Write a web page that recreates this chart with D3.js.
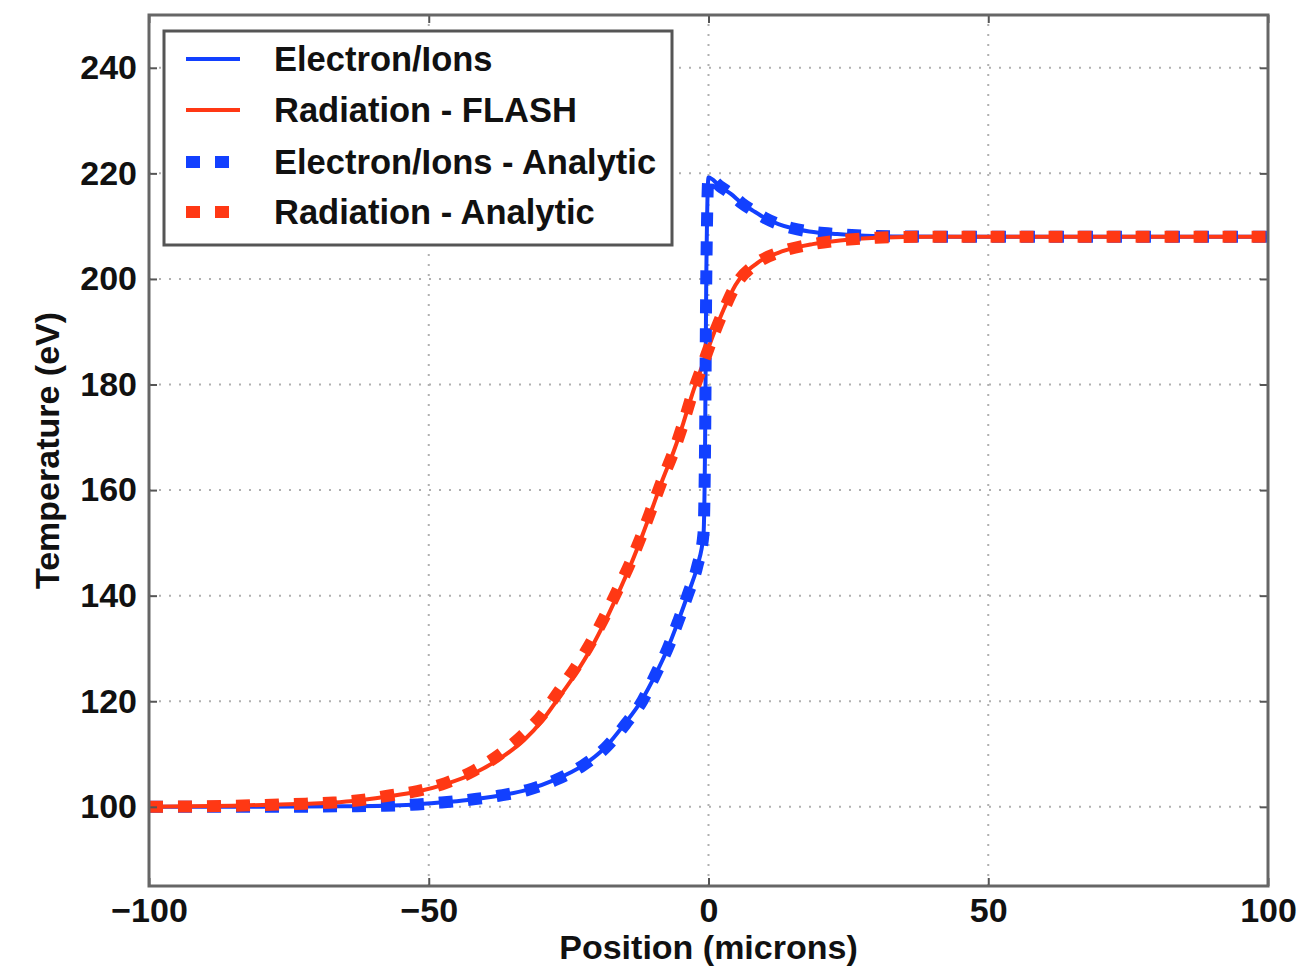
<!DOCTYPE html>
<html>
<head>
<meta charset="utf-8">
<script src="https://cdn.jsdelivr.net/npm/d3@7"></script>
<style>
  html, body { margin: 0; padding: 0; background: #fff; }
  svg text { font-family: "Liberation Sans", Arial, Helvetica, sans-serif; font-weight: bold; fill: #111; }
</style>
</head>
<body>
<svg id="chart" width="1298" height="966"></svg>
<script>
// Temperature profiles across the shock: [position (microns), temperature (eV)]
const electronFlash = [
  [-100,100],[-80,100],[-65,100.1],[-58,100.2],[-53,100.4],[-48,100.8],[-43,101.3],
  [-37.5,102.1],[-32.5,103.2],[-27.5,105.1],[-22.5,107.8],[-18.5,111.2],[-15,115.7],
  [-12,120.1],[-9.5,125],[-7.3,130],[-5.4,135.2],[-3.6,140.5],[-2,145.6],[-0.9,151.5],
  [-0.6,170],[-0.4,200],[0,219.2],[2,217.6],[4,216.1],[6,214.3],[8,212.9],[10,211.6],
  [12.5,210.4],[15,209.6],[18,209],[23,208.5],[28,208.2],[35,208.05],[45,208],[100,208]
];
const radiationFlash = [
  [-100,100],[-85,100.2],[-72,100.6],[-67,100.8],[-62,101.3],[-57,102],[-52,102.9],
  [-47,104.3],[-42,106.3],[-37.5,109],[-33,112.6],[-29.6,116.5],[-26.8,120.6],
  [-23.7,125.3],[-21,130],[-18.4,135.3],[-16.2,140.3],[-14,145.6],[-11.8,151.5],
  [-10,156.7],[-8.2,162],[-6.2,167.4],[-4.5,172.7],[-2.9,178.2],[-1.1,183.6],
  [0.7,189],[2.7,194.2],[4.8,198.8],[8.7,203],[13.4,205.3],[18.6,206.6],[23.5,207.3],
  [30,207.8],[40,208],[100,208]
];
const electronAnalytic = [
  [-100,100],[-80,100],[-65,100.1],[-58,100.2],[-53,100.4],[-48,100.8],[-43,101.3],
  [-37.5,102.1],[-32.3,103.2],[-27.3,105.1],[-22.5,107.8],[-18.4,111.2],[-14.8,115.7],
  [-11.8,120.1],[-9.5,125],[-7.3,130],[-5.4,135.2],[-3.6,140.5],[-2,145.6],[-0.9,151.7],
  [-0.6,170],[-0.4,200],[0,219.2],[2,217.6],[4,216.1],[6,214.3],[8,212.9],[10,211.6],
  [12.5,210.4],[15,209.6],[18,209],[23,208.5],[28,208.2],[35,208.05],[45,208],[100,208]
];
const radiationAnalytic = [
  [-100,100],[-85,100.2],[-72,100.6],[-67,100.8],[-62,101.3],[-57.3,102.1],[-52,103],
  [-47,104.5],[-42,106.8],[-37.5,109.8],[-33.2,113.6],[-29.6,117.6],[-26.8,121.8],
  [-23.7,126.5],[-21,131.2],[-18.4,136.4],[-16.2,141.2],[-14,146.2],[-11.8,151.9],
  [-10,157],[-8.2,162.1],[-6.2,167.4],[-4.5,172.7],[-2.9,178.2],[-1.1,183.5],
  [0.7,188.8],[2.7,194],[4.8,198.7],[8.7,203],[13.4,205.3],[18.6,206.6],[23.5,207.3],
  [30,207.8],[40,208],[100,208]
];

const xTicks = [-100, -50, 0, 50, 100];
const yTicks = [100, 120, 140, 160, 180, 200, 220, 240];
const legendLabels = ["Electron/Ions", "Radiation - FLASH", "Electron/Ions - Analytic", "Radiation - Analytic"];

const BLUE = "#1240ff";
const RED = "#ff3814";
const DASH = "14,15";

const svg = d3.select("#chart");
const margin = { left: 149, right: 1298 - 1268, top: 15, bottom: 966 - 886 };
const W = 1298, H = 966;

const x = d3.scaleLinear().domain([-100, 100]).range([margin.left, W - margin.right]);
const y = d3.scaleLinear().domain([85, 250]).range([H - margin.bottom, margin.top]);

const fmt = d => (d < 0 ? "\u2212" + Math.abs(d) : String(d));

// Dotted grid
const grid = svg.append("g").attr("stroke", "#b0b0b0").attr("stroke-width", 2)
  .attr("stroke-dasharray", "2,8");
grid.selectAll("line.vx").data(xTicks.filter(d => d > -100 && d < 100)).join("line")
  .attr("x1", d => x(d)).attr("x2", d => x(d))
  .attr("y1", y.range()[0]).attr("y2", y.range()[1]);
grid.selectAll("line.hy").data(yTicks).join("line")
  .attr("y1", d => y(d)).attr("y2", d => y(d))
  .attr("x1", x.range()[0]).attr("x2", x.range()[1]);

// Curves
const line = d3.line().x(d => x(d[0])).y(d => y(d[1])).curve(d3.curveMonotoneX);
const plot = svg.append("g");
plot.append("path").datum(electronFlash).attr("d", line)
  .attr("fill", "none").attr("stroke", BLUE).attr("stroke-width", 4);
plot.append("path").datum(radiationFlash).attr("d", line)
  .attr("fill", "none").attr("stroke", RED).attr("stroke-width", 4);
plot.append("path").datum(electronAnalytic).attr("d", line)
  .attr("fill", "none").attr("stroke", BLUE).attr("stroke-width", 12)
  .attr("stroke-dasharray", DASH);
plot.append("path").datum(radiationAnalytic).attr("d", line)
  .attr("fill", "none").attr("stroke", RED).attr("stroke-width", 12)
  .attr("stroke-dasharray", DASH);

// Axes with inward ticks on all four sides
const tickLen = 8;
const axB = svg.append("g").attr("transform", `translate(0,${y.range()[0]})`)
  .call(d3.axisBottom(x).tickValues(xTicks).tickSizeInner(-tickLen).tickSizeOuter(0).tickPadding(12).tickFormat(fmt));
const axT = svg.append("g").attr("transform", `translate(0,${y.range()[1]})`)
  .call(d3.axisTop(x).tickValues(xTicks).tickSizeInner(-tickLen).tickSizeOuter(0).tickFormat(""));
const axL = svg.append("g").attr("transform", `translate(${x.range()[0]},0)`)
  .call(d3.axisLeft(y).tickValues(yTicks).tickSizeInner(-tickLen).tickSizeOuter(0).tickPadding(12).tickFormat(fmt));
const axR = svg.append("g").attr("transform", `translate(${x.range()[1]},0)`)
  .call(d3.axisRight(y).tickValues(yTicks).tickSizeInner(-tickLen).tickSizeOuter(0).tickFormat(""));
[axB, axT, axL, axR].forEach(a => {
  a.select(".domain").remove();
  a.selectAll(".tick line").attr("stroke", "#555").attr("stroke-width", 2);
  a.selectAll("text").attr("font-size", 34).attr("fill", "#111")
    .style("font-family", '"Liberation Sans", Arial, sans-serif').style("font-weight", "bold");
});
axB.selectAll("text").attr("dy", "0.71em");
axL.selectAll("text").attr("dy", "0.32em");

// Frame
svg.append("rect")
  .attr("x", x.range()[0]).attr("y", y.range()[1])
  .attr("width", x.range()[1] - x.range()[0]).attr("height", y.range()[0] - y.range()[1])
  .attr("fill", "none").attr("stroke", "#666").attr("stroke-width", 3);

// Axis titles
svg.append("text").attr("x", x(0)).attr("y", 959).attr("text-anchor", "middle")
  .attr("font-size", 34).text("Position (microns)");
svg.append("text").attr("transform", `translate(59,${y(167.5)}) rotate(-90)`)
  .attr("text-anchor", "middle").attr("font-size", 34).text("Temperature (eV)");

// Legend
const legend = svg.append("g");
legend.append("rect").attr("x", 164).attr("y", 31).attr("width", 508).attr("height", 214)
  .attr("fill", "#fff").attr("stroke", "#555").attr("stroke-width", 3);
const legendStyles = [
  { color: BLUE, width: 4, dash: null },
  { color: RED, width: 4, dash: null },
  { color: BLUE, width: 12, dash: DASH },
  { color: RED, width: 12, dash: DASH }
];
const rowY = [59, 110, 162, 212];
legendLabels.forEach((label, i) => {
  const s = legendStyles[i];
  legend.append("line").attr("x1", 186).attr("x2", 240).attr("y1", rowY[i]).attr("y2", rowY[i])
    .attr("stroke", s.color).attr("stroke-width", s.width)
    .attr("stroke-dasharray", s.dash);
  legend.append("text").attr("x", 274).attr("y", rowY[i]).attr("dy", "0.36em")
    .attr("font-size", 34.5).text(label);
});
</script>
</body>
</html>
